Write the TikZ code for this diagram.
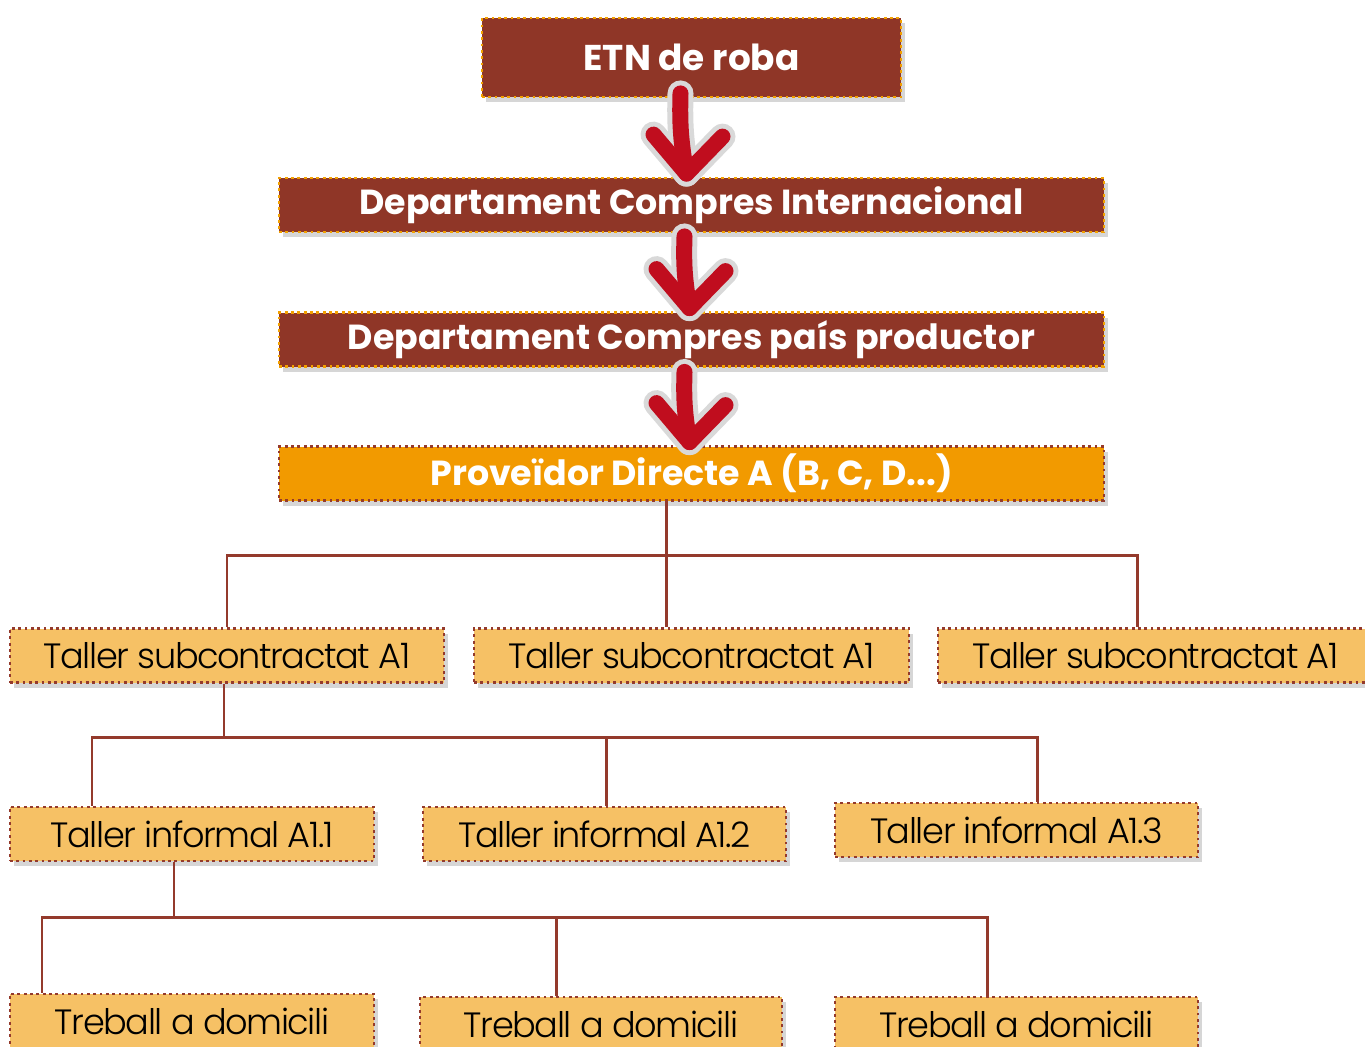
\documentclass[tikz,border=0pt]{standalone}
\usepackage{fontspec}
\setmainfont{Poppins}
\newfontfamily\thinfont{Poppins Light}[LetterSpace=-4]
\usetikzlibrary{shadows}
\definecolor{brownbox}{HTML}{8F3627}
\definecolor{dotorange}{HTML}{F2A000}
\definecolor{orangebox}{HTML}{F29A00}
\definecolor{sandbox}{HTML}{F6C165}
\definecolor{linkbrown}{HTML}{943A2C}
\definecolor{arrowred}{HTML}{C00D1E}

\begin{document}
\begin{tikzpicture}[x=0.1mm,y=0.1mm,
  shade/.style={drop shadow={shadow xshift=0.4mm,shadow yshift=-0.5mm,opacity=0.16,fill=black,draw=none}},
  topbox/.style={shade,draw=dotorange,fill=brownbox,densely dotted,line width=0.8pt,
    text=white,font=\bfseries\fontsize{9.9}{12}\selectfont,inner sep=0pt,minimum height=0.54cm},
  supbox/.style={topbox,draw=linkbrown,fill=orangebox},
  lowbox/.style={shade,draw=linkbrown,fill=sandbox,densely dotted,line width=0.8pt,
    text=black,font=\thinfont\fontsize{10}{12}\selectfont,inner sep=0pt,minimum height=0.54cm},
  link/.style={draw=linkbrown,line width=0.85pt},
  arrowrim/.style={draw=black!15,line width=2.6mm,line cap=round,line join=round},
  arrowbody/.style={draw=arrowred,line width=1.6mm,line cap=round,line join=round}]
\clip (0,0) rectangle (1365,-1046);

% top chain
\node[topbox,minimum width=4.19cm,minimum height=0.79cm,font=\bfseries\fontsize{10.2}{12}\selectfont] (etn) at (691.5,-57.5) {ETN de roba};
\node[topbox,minimum width=8.25cm] (dint) at (691.5,-205) {Departament Compres Internacional};
\node[topbox,minimum width=8.25cm] (dpais) at (691.5,-339.5) {Departament Compres país productor};
\node[supbox,minimum width=8.25cm] (prov) at (691.5,-473.5) {Proveïdor Directe A (B, C, D...)};

% big arrows
\draw[arrowrim] ([shift={(-11,5)}]etn.south) to[bend right=6] ([shift={(-5,3)}]dint.north);
\draw[arrowrim] ([shift={(-38,42)}]dint.north) -- ([shift={(-5,3)}]dint.north) -- ([shift={(31,40)}]dint.north);
\draw[arrowbody] ([shift={(-11,5)}]etn.south) to[bend right=6] ([shift={(-5,3)}]dint.north);
\draw[arrowbody] ([shift={(-38,42)}]dint.north) -- ([shift={(-5,3)}]dint.north) -- ([shift={(31,40)}]dint.north);

\draw[arrowrim] ([shift={(-7,-3)}]dint.south) to[bend right=6] ([shift={(-2,3)}]dpais.north);
\draw[arrowrim] ([shift={(-35,42)}]dpais.north) -- ([shift={(-2,3)}]dpais.north) -- ([shift={(34,40)}]dpais.north);
\draw[arrowbody] ([shift={(-7,-3)}]dint.south) to[bend right=6] ([shift={(-2,3)}]dpais.north);
\draw[arrowbody] ([shift={(-35,42)}]dpais.north) -- ([shift={(-2,3)}]dpais.north) -- ([shift={(34,40)}]dpais.north);

\draw[arrowrim] ([shift={(-7,-4)}]dpais.south) to[bend right=6] ([shift={(-2,3)}]prov.north);
\draw[arrowrim] ([shift={(-35,42)}]prov.north) -- ([shift={(-2,3)}]prov.north) -- ([shift={(34,40)}]prov.north);
\draw[arrowbody] ([shift={(-7,-4)}]dpais.south) to[bend right=6] ([shift={(-2,3)}]prov.north);
\draw[arrowbody] ([shift={(-35,42)}]prov.north) -- ([shift={(-2,3)}]prov.north) -- ([shift={(34,40)}]prov.north);

% subcontracted workshops
\node[lowbox,minimum width=4.34cm] (ts1) at (227,-655.5) {Taller subcontractat A1};
\node[lowbox,minimum width=4.35cm] (ts2) at (691.5,-655.5) {Taller subcontractat A1};
\node[lowbox,minimum width=4.35cm] (ts3) at (1155.5,-655.5) {Taller subcontractat A1};

\coordinate (busA) at (666,-555);
\coordinate (busAr) at (1137,-555);
\draw[link] (prov.south -| busA) -- (busA |- ts2.north);
\draw[link] (ts1.north) |- (busAr) -- (busAr |- ts3.north);

% informal workshops
\node[lowbox,minimum width=3.64cm] (ti1) at (192,-834) {Taller informal A1.1};
\node[lowbox,minimum width=3.63cm] (ti2) at (604.5,-834) {Taller informal A1.2};
\node[lowbox,minimum width=3.63cm] (ti3) at (1016.5,-830) {Taller informal A1.3};

\coordinate (busBl) at (92,-737);
\coordinate (busBr) at (1037,-737);
\draw[link] (ts1.south -| 224,0) -- (busBl -| 224,0);
\draw[link] (busBl |- ti1.north) -- (busBl) -- (busBr) -- (busBr |- ti3.north);
\draw[link] (ti2.north -| 606,0) -- (busBl -| 606,0);

% home work
\node[lowbox,minimum width=3.64cm] (td1) at (192,-1021) {Treball a domicili};
\node[lowbox,minimum width=3.62cm] (td2) at (601,-1024) {Treball a domicili};
\node[lowbox,minimum width=3.63cm] (td3) at (1016.5,-1024) {Treball a domicili};

\coordinate (busCl) at (42,-917);
\coordinate (busCr) at (987,-917);
\draw[link] (ti1.south -| 174,0) -- (busCl -| 174,0);
\draw[link] (busCl |- td1.north) -- (busCl) -- (busCr) -- (busCr |- td3.north);
\draw[link] (td2.north -| 556,0) -- (busCl -| 556,0);
\end{tikzpicture}
\end{document}
